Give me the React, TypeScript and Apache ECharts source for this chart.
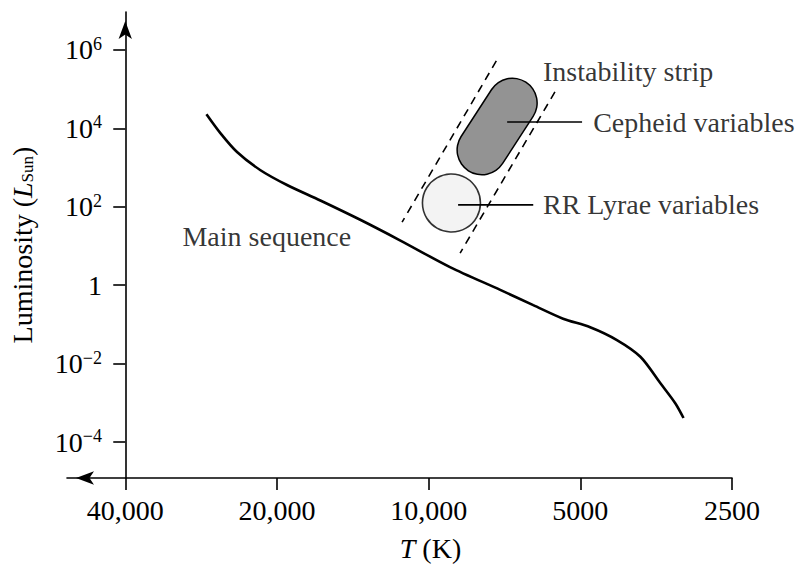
import React, { useEffect, useRef } from 'react';
import * as echarts from 'echarts';

// ---- Axis ticks ----
const T_ORIGIN = 40000; // hottest tick, where the luminosity axis crosses
const tempTicks = [40000, 20000, 10000, 5000, 2500];
const tempTickLabels = ['40,000', '20,000', '10,000', '5000', '2500'];
const tempAxisMin = 52200; // left end of the temperature axis (arrow)
const tempAxisMax = 2500;
const lumTicks = [1e-4, 1e-2, 1, 1e2, 1e4, 1e6];
const lumTickBase = ['10', '10', '1', '10', '10', '10'];
const lumTickExp = ['\u22124', '\u22122', '', '2', '4', '6'];
const lumAxisMin = 1.21e-5;
const lumAxisMax = 9.3e6;

// ---- Main sequence ----
const msTemp = [27600, 25900, 24000, 21600, 19100, 16400, 13700, 11400, 9070, 7210, 6200, 5410, 4780, 4230, 3800, 3470, 3240, 3120];
const msLum = [2.3e4, 7.6e3, 2.5e3, 870, 360, 145, 47.4, 14, 2.9, 0.76, 0.31, 0.14, 0.085, 0.04, 0.015, 0.0032, 0.00098, 0.00041];

// ---- Instability strip ----
const stripBlueEdgeTemp = [7340, 11290];
const stripBlueEdgeLum = [5.25e5, 40.7];
const stripRedEdgeTemp = [5615, 8660];
const stripRedEdgeLum = [8.5e4, 6.6];
const cepheidTemp = [6820, 7840];
const cepheidLum = [4.45e4, 2810];
const rrLyraeTemp = [9010];
const rrLyraeLum = [125];

// ---- Annotations ----
const annotationNames = ['Instability strip', 'Cepheid variables', 'RR Lyrae variables', 'Main sequence'];
const annotationTemp = [5930, 4715, 5930, 30800];
const annotationLum = [2.75e5, 1.45e4, 112, 17];
const cepheidLeaderTemp = [6985, 4960];
const cepheidLeaderLum = [1.45e4, 1.45e4];
const rrLeaderTemp = [8740, 6200];
const rrLeaderLum = [112, 112];

const FONT = "'Liberation Serif', 'Times New Roman', serif";
const INK = '#000000';
const FS = 28;

const tx = (t: number) => Math.log2(T_ORIGIN / t);
const ly = (l: number) => Math.log10(l);
const pts = (ts: number[], ls: number[]) => ts.map((t, i) => [tx(t), ly(ls[i])]);
const nearest = (arr: number[], v: number) => {
  let best = 0;
  arr.forEach((a, i) => {
    if (Math.abs(a - v) < Math.abs(arr[best] - v)) best = i;
  });
  return best;
};

const xTickVals = tempTicks.map(tx);
const yTickVals = lumTicks.map(ly);

const option: any = {
  animation: false,
  backgroundColor: '#ffffff',
  textStyle: { fontFamily: FONT, color: INK },
  grid: { left: 67, right: 68, top: 12, bottom: 95, containLabel: false, outerBoundsMode: 'none' },
  xAxis: {
    type: 'value',
    min: tx(tempAxisMin),
    max: tx(tempAxisMax),
    splitLine: { show: false },
    axisLine: {
      onZero: false,
      lineStyle: { color: INK, width: 1.6 },
      symbol: ['arrow', 'none'],
      symbolSize: [10, 18],
      symbolOffset: [9, 0],
    },
    axisTick: { customValues: xTickVals, length: 12, lineStyle: { color: INK, width: 1.6 } },
    axisLabel: {
      customValues: xTickVals,
      margin: 18,
      fontSize: FS,
      fontFamily: FONT,
      color: INK,
      formatter: (v: number) => tempTickLabels[nearest(xTickVals, v)],
    },
    name: '{i|T} (K)',
    nameLocation: 'middle',
    nameGap: 56,
    nameMoveOverlap: false,
    nameTextStyle: {
      fontSize: FS,
      fontFamily: FONT,
      color: INK,
      padding: [0, 0, 0, 62],
      rich: { i: { fontSize: FS, fontStyle: 'italic', fontFamily: FONT, color: INK } },
    },
  },
  yAxis: {
    type: 'value',
    min: ly(lumAxisMin),
    max: ly(lumAxisMax),
    splitLine: { show: false },
    axisLine: {
      onZero: true,
      lineStyle: { color: INK, width: 1.6 },
      symbol: ['none', 'arrow'],
      symbolSize: [10, 18],
      symbolOffset: [0, -9],
    },
    axisTick: { customValues: yTickVals, length: 12, lineStyle: { color: INK, width: 1.6 } },
    axisLabel: {
      customValues: yTickVals,
      margin: -35,
      color: INK,
      formatter: (v: number) => {
        const i = nearest(yTickVals, v);
        return lumTickExp[i] ? `{b|${lumTickBase[i]}}{s|${lumTickExp[i]}}` : `{b|${lumTickBase[i]}}`;
      },
      rich: {
        b: { fontSize: FS, fontFamily: FONT, color: INK, lineHeight: 30 },
        s: { fontSize: 18, fontFamily: FONT, color: INK, verticalAlign: 'top', lineHeight: 16 },
      },
    },
    name: 'Luminosity ({i|L}{sub|Sun})',
    nameLocation: 'middle',
    nameGap: 31,
    nameMoveOverlap: false,
    nameTextStyle: {
      fontSize: FS,
      fontFamily: FONT,
      color: INK,
      rich: {
        i: { fontSize: FS, fontStyle: 'italic', fontFamily: FONT, color: INK },
        sub: { fontSize: 17, fontFamily: FONT, color: INK, verticalAlign: 'bottom' },
      },
    },
  },
  series: [
    {
      type: 'line', silent: true, symbol: 'none',
      data: pts(stripBlueEdgeTemp, stripBlueEdgeLum),
      lineStyle: { color: INK, width: 1.6, type: [8, 6] },
    },
    {
      type: 'line', silent: true, symbol: 'none',
      data: pts(stripRedEdgeTemp, stripRedEdgeLum),
      lineStyle: { color: INK, width: 1.6, type: [8, 6] },
    },
    {
      type: 'line', silent: true, symbol: 'none',
      data: pts(cepheidTemp, cepheidLum),
      lineStyle: { color: INK, width: 51, cap: 'round' },
    },
    {
      type: 'line', silent: true, symbol: 'none',
      data: pts(cepheidTemp, cepheidLum),
      lineStyle: { color: '#939393', width: 48, cap: 'round' },
    },
    {
      type: 'scatter', silent: true,
      data: pts(rrLyraeTemp, rrLyraeLum),
      symbol: 'circle', symbolSize: 58,
      itemStyle: { color: '#f0f0f0', borderColor: INK, borderWidth: 1.6 },
    },
    {
      type: 'line', silent: true, symbol: 'none',
      data: pts(cepheidLeaderTemp, cepheidLeaderLum),
      lineStyle: { color: INK, width: 1.6 },
    },
    {
      type: 'line', silent: true, symbol: 'none',
      data: pts(rrLeaderTemp, rrLeaderLum),
      lineStyle: { color: INK, width: 1.6 },
    },
    {
      type: 'line', silent: true, symbol: 'none', smooth: 0.3,
      data: pts(msTemp, msLum),
      lineStyle: { color: INK, width: 2.6 },
    },
    {
      type: 'scatter', silent: true, symbolSize: 0,
      data: annotationNames.map((n, i) => ({ name: n, value: [tx(annotationTemp[i]), ly(annotationLum[i])] })),
      label: {
        show: true, position: 'right', distance: 0,
        formatter: (p: any) => p.name,
        fontSize: FS, fontFamily: FONT, color: INK,
      },
    },
  ],
};

export default function App() {
  const ref = useRef<HTMLDivElement>(null);
  useEffect(() => {
    if (!ref.current) return;
    const chart = echarts.init(ref.current, undefined, { renderer: 'svg', width: 800, height: 573 });
    chart.setOption(option);
    return () => chart.dispose();
  }, []);
  return (
    <div
      ref={ref}
      style={{ position: 'fixed', left: 0, top: 0, width: 800, height: 573, background: '#ffffff' }}
    />
  );
}
